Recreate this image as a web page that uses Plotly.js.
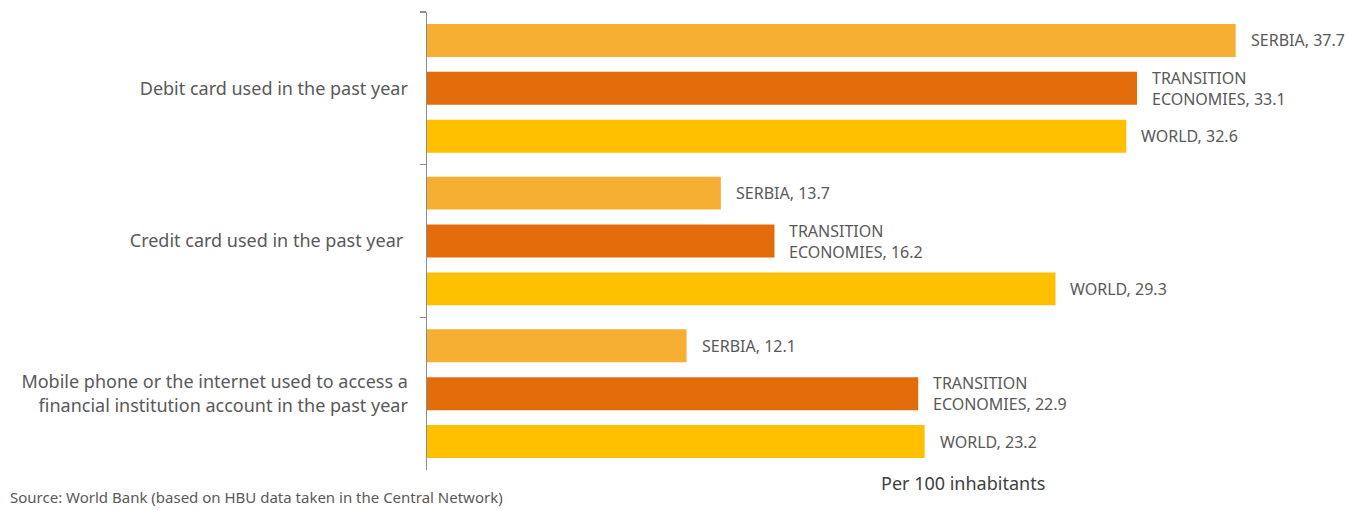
<!DOCTYPE html>
<html>
<head>
<meta charset="utf-8">
<script src="https://cdn.plot.ly/plotly-3.0.1.min.js"></script>
<style>html,body{margin:0;padding:0;background:#fff;}#chart{width:1356px;height:510px;}</style>
</head>
<body>
<div id="chart"></div>
<script>
const categories = [
  "Debit card used in the past year",
  "Credit card used in the past year ",
  "Mobile phone or the internet used to access a<br>financial institution account in the past year"
];
const seriesNames = ["SERBIA", "TRANSITION ECONOMIES", "WORLD"];
const labelNames = ["SERBIA", "TRANSITION<br>ECONOMIES", "WORLD"];
const serbia = [37.7, 13.7, 12.1];
const transition = [33.1, 16.2, 22.9];
const world = [32.6, 29.3, 23.2];
const colors = ["#F7AF33", "#E36C0A", "#FFC000"];
const xTitle = "Per 100 inhabitants";
const sourceText = "Source: World Bank (based on HBU data taken in the Central Network)";

const allSeries = [serbia, transition, world];
const traces = allSeries.map((vals, i) => ({
  type: "bar",
  orientation: "h",
  name: seriesNames[i],
  x: vals,
  y: categories,
  marker: {color: colors[i]},
  hoverinfo: "x"
}));

const slot = (1 - 0.059) / 3;
const annotations = [];
allSeries.forEach((vals, i) => {
  vals.forEach((v, j) => {
    annotations.push({
      x: v, y: j + (i - 1) * slot, xref: "x", yref: "y",
      text: labelNames[i] + ", " + v.toFixed(1),
      showarrow: false, xanchor: "left", yanchor: "middle", align: "left",
      xshift: 13,
      font: {family: "Noto Sans, sans-serif", size: 16, color: "#595959"}
    });
  });
});
annotations.push({
  x: 963, y: 497, xref: "paper", yref: "paper", text: xTitle, showarrow: false,
  font: {family: "Noto Sans, sans-serif", size: 18, color: "#404040"}
});
annotations.push({
  x: 8, y: 509, xref: "paper", yref: "paper", text: sourceText, showarrow: false,
  xanchor: "left", yanchor: "bottom",
  font: {family: "Noto Sans, sans-serif", size: 15, color: "#595959"}
});

const W = 1356, H = 510, mL = 427, mR = 71, mT = 12, mB = 40;
const pw = W - mL - mR, ph = H - mT - mB;
annotations.forEach(a => {
  if (a.xref === "paper") {
    a.x = (a.x - mL) / pw;
    a.y = 1 - (a.y - mT) / ph;
  }
});

const layout = {
  width: W, height: H,
  margin: {l: mL, r: mR, t: mT, b: mB},
  paper_bgcolor: "#fff", plot_bgcolor: "#fff",
  barmode: "group", bargap: 0.059, bargroupgap: 0.3125,
  showlegend: false,
  xaxis: {range: [0, 40], showgrid: false, zeroline: false, showticklabels: false, ticks: "", showline: false, fixedrange: true},
  yaxis: {
    autorange: "reversed", showgrid: false, zeroline: false,
    showline: true, linecolor: "#8c8c8c", linewidth: 1.5,
    ticks: "outside", tickson: "boundaries", ticklen: 6, tickcolor: "#8c8c8c", tickwidth: 1.5,
    ticklabelstandoff: 14,
    tickfont: {family: "Noto Sans, sans-serif", size: 18, color: "#595959"}
  },
  annotations: annotations
};

Plotly.newPlot("chart", traces, layout, {displayModeBar: false, staticPlot: true});
</script>
</body>
</html>
